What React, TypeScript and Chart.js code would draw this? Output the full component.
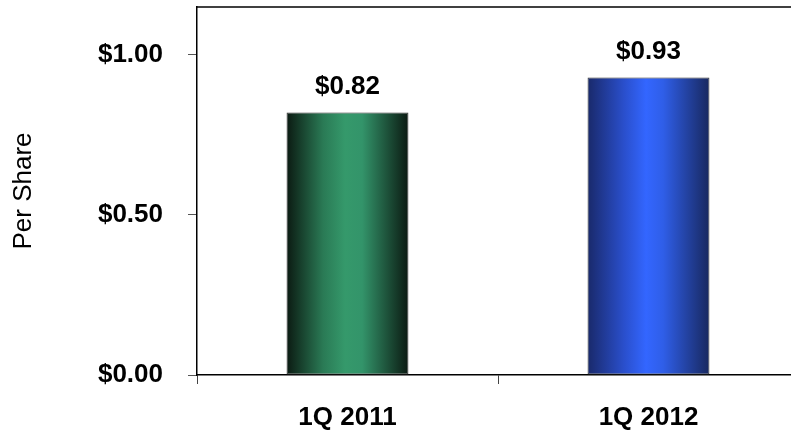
import React, { useEffect, useRef } from "react";
import { Chart, registerables } from "chart.js";

Chart.register(...registerables);

const categories = ["1Q 2011", "1Q 2012"];
const values = [0.82, 0.93];
const yTickValues = [0, 0.5, 1.0];
const yMax = 1.15;
const axisTitle = "Per Share";
const gradientStops = [
  ["#0b1a12", "#2a7a55", "#35996b", "#33946a", "#0b1a12"],
  ["#19296a", "#2a4fcc", "#3366ff", "#2f5ee8", "#18285f"],
];

const FONT = "Arial, 'Liberation Sans', sans-serif";

const frame = {
  id: "frame",
  afterDraw(chart: any) {
    const { ctx, chartArea } = chart;
    ctx.save();
    ctx.strokeStyle = "#000";
    ctx.lineWidth = 1.5;
    ctx.beginPath();
    ctx.moveTo(chartArea.left, chartArea.top);
    ctx.lineTo(chart.width, chartArea.top);
    ctx.stroke();
    ctx.restore();
  },
};

const labels = {
  id: "valueLabels",
  afterDatasetsDraw(chart: any) {
    const { ctx } = chart;
    const meta = chart.getDatasetMeta(0);
    ctx.save();
    ctx.font = `bold 26px ${FONT}`;
    ctx.fillStyle = "#000";
    ctx.textAlign = "center";
    ctx.textBaseline = "middle";
    meta.data.forEach((bar: any, i: number) => {
      ctx.fillText("$" + values[i].toFixed(2), bar.x, bar.y - 26);
    });
    ctx.restore();
  },
};

export default function App() {
  const ref = useRef<HTMLCanvasElement | null>(null);
  useEffect(() => {
    if (!ref.current) return;
    const barPct = 0.405;
    const chart = new Chart(ref.current, {
      type: "bar",
      data: {
        labels: categories,
        datasets: [
          {
            data: values,
            barPercentage: barPct,
            categoryPercentage: 1,
            borderColor: "#333",
            borderWidth: 1,
            borderSkipped: false,
            backgroundColor: (c: any) => {
              const chart = c.chart;
              const xs = chart.scales && chart.scales.x;
              if (!xs || !chart.chartArea) return gradientStops[c.dataIndex % 2][2];
              const cx = xs.getPixelForValue(c.dataIndex);
              const w = (xs.width / categories.length) * barPct;
              const g = chart.ctx.createLinearGradient(cx - w / 2, 0, cx + w / 2, 0);
              const s = gradientStops[c.dataIndex % 2];
              g.addColorStop(0, s[0]);
              g.addColorStop(0.3, s[1]);
              g.addColorStop(0.48, s[2]);
              g.addColorStop(0.62, s[3]);
              g.addColorStop(1, s[4]);
              return g;
            },
          },
        ],
      },
      options: {
        animation: false,
        responsive: false,
        devicePixelRatio: 1,
        layout: { padding: { top: 7, right: 31, bottom: 0, left: 0 } },
        plugins: { legend: { display: false }, tooltip: { enabled: false } },
        scales: {
          x: {
            afterFit: (s: any) => {
              s.paddingLeft = 0;
              s.paddingRight = 0;
              s.height = 58;
            },
            grid: { drawOnChartArea: false, drawTicks: true, tickLength: 9, color: "#444", offset: true },
            border: { color: "#000", width: 1.5 },
            ticks: { color: "#000", font: { family: FONT, size: 26, weight: "bold" }, padding: 18 },
          },
          y: {
            min: 0,
            max: yMax,
            afterBuildTicks: (s: any) => {
              s.ticks = yTickValues.map((v) => ({ value: v }));
            },
            afterFit: (s: any) => {
              s.width = 197;
              s.paddingTop = 0;
              s.paddingBottom = 0;
            },
            grid: { drawOnChartArea: false, drawTicks: true, tickLength: 9, color: "#555" },
            border: { color: "#000", width: 1.5 },
            ticks: {
              color: "#000",
              font: { family: FONT, size: 26, weight: "bold" },
              padding: 25,
              callback: (v: any) => "$" + Number(v).toFixed(2),
            },
            title: {
              display: true,
              text: axisTitle,
              color: "#000",
              font: { family: FONT, size: 26, weight: "normal" },
              padding: { top: 8, bottom: 0 },
            },
          },
        },
      },
      plugins: [frame, labels],
    });
    return () => chart.destroy();
  }, []);
  return (
    <div style={{ position: "fixed", left: 0, top: 0, width: 791, height: 433, overflow: "hidden", background: "#fff" }}>
      <canvas ref={ref} width={830} height={433} style={{ display: "block", width: 830, height: 433 }} />
    </div>
  );
}
